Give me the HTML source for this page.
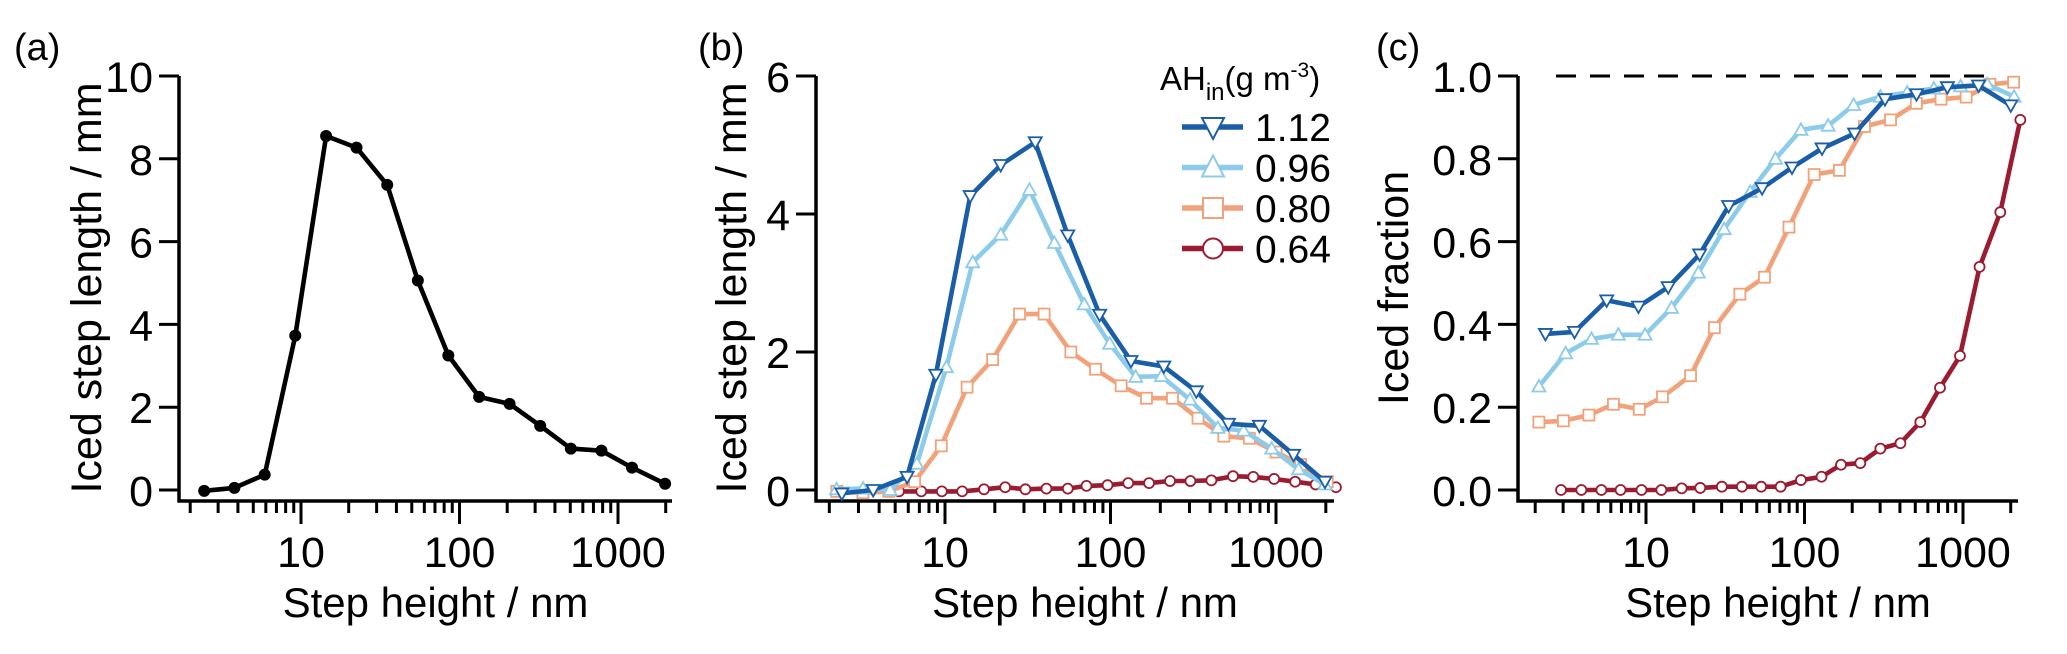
<!DOCTYPE html>
<html><head><meta charset="utf-8"><style>
html,body{margin:0;padding:0;background:#fff;}
svg{display:block;font-family:"Liberation Sans",Arial,sans-serif;}
</style></head><body>
<svg id="fig" width="2067" height="654" viewBox="0 0 2067 654" xmlns="http://www.w3.org/2000/svg"></svg>
<script>
// Panel (a)
const aX = [2.45,3.8,5.9,9.2,14.4,22.4,35,54.6,85,133,207,323,504,786,1226,1982];
const aY = [-0.02,0.05,0.37,3.73,8.55,8.27,7.37,5.06,3.25,2.25,2.08,1.55,1.0,0.95,0.54,0.15];
// Panel (b)
const b112X = [2.38,3.68,5.9,8.8,14.2,21.7,35.1,55.2,86,133,210,330,516,794,1277,1976];
const b112Y = [-0.05,0,0.19,1.67,4.26,4.71,5.04,3.69,2.54,1.87,1.79,1.43,0.96,0.93,0.51,0.12];
const b096X = [2.21,3.2,4.66,6.76,10.2,14.7,21.7,32.4,45.8,69.4,98.9,142,203,302,445,637,942,1367,1976];
const b096Y = [0.01,0.02,0,0.38,1.78,3.3,3.7,4.35,3.58,2.69,2.12,1.64,1.65,1.31,0.9,0.86,0.6,0.3,0.08];
const b080X = [2.22,3.19,4.57,6.55,9.5,13.6,19.4,28.2,39.7,57.6,81.2,116,165,237,338,484,690,1001,1409,2040];
const b080Y = [-0.02,-0.04,-0.02,0.12,0.64,1.49,1.89,2.55,2.55,2.0,1.75,1.51,1.33,1.33,1.04,0.78,0.75,0.55,0.37,0.12];
const b064X = [5.27,7.19,9.57,12.7,17.2,23.1,30.6,41,55.2,71.6,96,128,171,229,304,407,550,729,974,1306,1736,2302];
const b064Y = [-0.02,-0.02,-0.02,-0.02,0.01,0.04,0.01,0.02,0.02,0.06,0.07,0.1,0.1,0.13,0.13,0.14,0.2,0.19,0.16,0.12,0.08,0.04];
// Panel (c)
const c112X = [2.32,3.54,5.65,8.96,13.8,21.8,33.2,54,83.4,129,207,322,509,797,1253,2002];
const c112Y = [0.377,0.382,0.458,0.443,0.49,0.569,0.686,0.729,0.779,0.825,0.861,0.944,0.956,0.973,0.977,0.929];
const c096X = [2.11,3.11,4.53,6.69,9.87,14.5,21.4,31.1,45.4,65.6,95,141,204,301,444,655,966,1424,2100];
const c096Y = [0.25,0.33,0.365,0.375,0.375,0.44,0.525,0.63,0.72,0.80,0.87,0.88,0.93,0.95,0.96,0.97,0.975,0.98,0.95];
const c080X = [2.11,3.01,4.36,6.23,9.07,12.7,19.1,27,39.1,55.9,79.8,115,166,239,349,508,727,1047,1478,2087];
const c080Y = [0.164,0.167,0.181,0.207,0.195,0.225,0.276,0.392,0.473,0.514,0.635,0.762,0.772,0.878,0.894,0.934,0.944,0.949,0.98,0.985];
const c064X = [2.91,3.91,5.23,6.91,9.37,12.5,16.8,22,30.1,40.3,53.3,70.7,95,128,170,225,301,403,538,716,957,1272,1719,2300];
const c064Y = [0,0,0,0,0,0,0.004,0.005,0.008,0.008,0.008,0.008,0.024,0.032,0.061,0.065,0.1,0.113,0.164,0.247,0.324,0.539,0.671,0.894];
const xTickLabels = ["10","100","1000"];
const aYTicks = ["0","2","4","6","8","10"];
const bYTicks = ["0","2","4","6"];
const cYTicks = ["0.0","0.2","0.4","0.6","0.8","1.0"];
const legendLabels = ["1.12","0.96","0.80","0.64"];

const NS="http://www.w3.org/2000/svg";
const svg=document.getElementById('fig');
function mk(tag,attrs,parent){const e=document.createElementNS(NS,tag);for(const k in attrs)e.setAttribute(k,attrs[k]);(parent||svg).appendChild(e);return e;}
const C={d:"#1a5ea8",l:"#8ccbe9",o:"#f2a27a",r:"#9b1b30"};
const Y0=490, YT=76, AXY=501;

function panel(name,left,x10,dec,right,ymax,yTicks,ytitle,letter,labx){
  const g=mk('g',{});
  
  
  const sx=v=>x10+dec*Math.log10(v/10);
  const sy=v=>Y0-(Y0-YT)*v/ymax;
  const ax=mk('path',{d:`M${left},${YT} L${left},${AXY} L${right},${AXY}`,fill:'none',stroke:'#000','stroke-width':3.5},g);
  
  
  for(let d=1;d<=1000;d*=10){for(let m=1;m<10;m++){const v=d*m;if(v<2||v>2000)continue;
    const major=(m===1&&v>=10);const x=sx(v);
    const t=mk('line',{x1:x,y1:AXY,x2:x,y2:AXY+(major?23:12),stroke:'#000','stroke-width':3},g);
    
    }}
  xTickLabels.forEach(s=>{const t=mk('text',{x:sx(+s),y:567,'font-size':43,'text-anchor':'middle'},g);t.textContent=s;
    
    });
  const xl=mk('text',{x:(left+right)/2+10,y:617,'font-size':42,'text-anchor':'middle'},g);xl.textContent='Step height / nm';
  
  
  yTicks.forEach((s,i)=>{const v=ymax*i/(yTicks.length-1);const y=sy(v);
    const t=mk('line',{x1:left-20,y1:y,x2:left,y2:y,stroke:'#000','stroke-width':3},g);
    
    
    const l=mk('text',{x:left-26,y:y+16,'font-size':43,'text-anchor':'end'},g);l.textContent=s;
    
    });
  const yt=mk('text',{x:0,y:0,'font-size':43,'text-anchor':'middle',transform:`translate(${labx},${(YT+Y0)/2+5}) rotate(-90)`},g);yt.textContent=ytitle;
  
  
  const pl=mk('text',{x:letter[1],y:60,'font-size':38},g);pl.textContent=letter[0];
  
  
  return {g,sx,sy};
}
function marker(g,type,x,y,col){
  let e;
  if(type==='dot')e=mk('circle',{cx:x,cy:y,r:6,fill:'#000'},g);
  else if(type==='circle')e=mk('circle',{cx:x,cy:y,r:5,fill:'#fff',stroke:col,'stroke-width':1.8},g);
  else if(type==='square')e=mk('rect',{x:x-5.5,y:y-5.5,width:11,height:11,fill:'#fff',stroke:col,'stroke-width':1.8},g);
  else if(type==='down')e=mk('path',{d:`M${x-6.5},${y-5} L${x+6.5},${y-5} L${x},${y+6.5} Z`,fill:'#fff',stroke:col,'stroke-width':1.8},g);
  else e=mk('path',{d:`M${x-6.5},${y+5} L${x+6.5},${y+5} L${x},${y-6.5} Z`,fill:'#fff',stroke:col,'stroke-width':1.8},g);
  
  
}
function series(p,xs,ys,col,type,name){
  const g=mk('g',{},p.g);
  
  
  const d=xs.map((v,i)=>(i?'L':'M')+p.sx(v).toFixed(1)+','+p.sy(ys[i]).toFixed(1)).join(' ');
  const l=mk('path',{d:d,fill:'none',stroke:col,'stroke-width':4.6,'stroke-linejoin':'round'},g);
  
  
  xs.forEach((v,i)=>marker(g,type,p.sx(v),p.sy(ys[i]),col));
}
const pa=panel('panel-a',179,301,158.5,672,10,aYTicks,'Iced step length / mm',['(a)',14],101);
series(pa,aX,aY,'#000','dot','series-a');
const pb=panel('panel-b',816,945,165.5,1334,6,bYTicks,'Iced step length / mm',['(b)',698],746);
series(pb,b064X,b064Y,C.r,'circle','series-b-064');
series(pb,b080X,b080Y,C.o,'square','series-b-080');
series(pb,b096X,b096Y,C.l,'up','series-b-096');
series(pb,b112X,b112Y,C.d,'down','series-b-112');
const pc=panel('panel-c',1518,1646,158.5,2018,1,cYTicks,'Iced fraction',['(c)',1376],1408);
const dl=mk('line',{x1:1556,y1:pc.sy(1),x2:1996,y2:pc.sy(1),stroke:'#000','stroke-width':3,'stroke-dasharray':'20 14'},pc.g);


series(pc,c064X,c064Y,C.r,'circle','series-c-064');
series(pc,c080X,c080Y,C.o,'square','series-c-080');
series(pc,c096X,c096Y,C.l,'up','series-c-096');
series(pc,c112X,c112Y,C.d,'down','series-c-112');
// legend
const lg=mk('g',{});


const hd=mk('text',{x:1160,y:90,'font-size':33},lg);
hd.innerHTML='AH<tspan font-size="24" dy="10">in</tspan><tspan dy="-10">(g m</tspan><tspan font-size="21" dy="-13">-3</tspan><tspan dy="13">)</tspan>';


const lc=[C.d,C.l,C.o,C.r], lt=['down','up','square','circle'];
legendLabels.forEach((s,i)=>{const y=127+i*40.5;
  const eg=mk('g',{},lg);
  
  
  mk('line',{x1:1182,y1:y,x2:1243,y2:y,stroke:lc[i],'stroke-width':5.5},eg);
  const mx=1213;
  let e;
  if(lt[i]==='down')e=mk('path',{d:`M${mx-11},${y-9} L${mx+11},${y-9} L${mx},${y+12} Z`,fill:'#fff',stroke:lc[i],'stroke-width':2},eg);
  else if(lt[i]==='up')e=mk('path',{d:`M${mx-11},${y+9} L${mx+11},${y+9} L${mx},${y-12} Z`,fill:'#fff',stroke:lc[i],'stroke-width':2},eg);
  else if(lt[i]==='square')e=mk('rect',{x:mx-10,y:y-10,width:20,height:20,fill:'#fff',stroke:lc[i],'stroke-width':2},eg);
  else e=mk('circle',{cx:mx,cy:y,r:10,fill:'#fff',stroke:lc[i],'stroke-width':2},eg);
  const t=mk('text',{x:1255,y:y+14,'font-size':39},eg);t.textContent=s;
  
  
});
</script>
</body></html>
